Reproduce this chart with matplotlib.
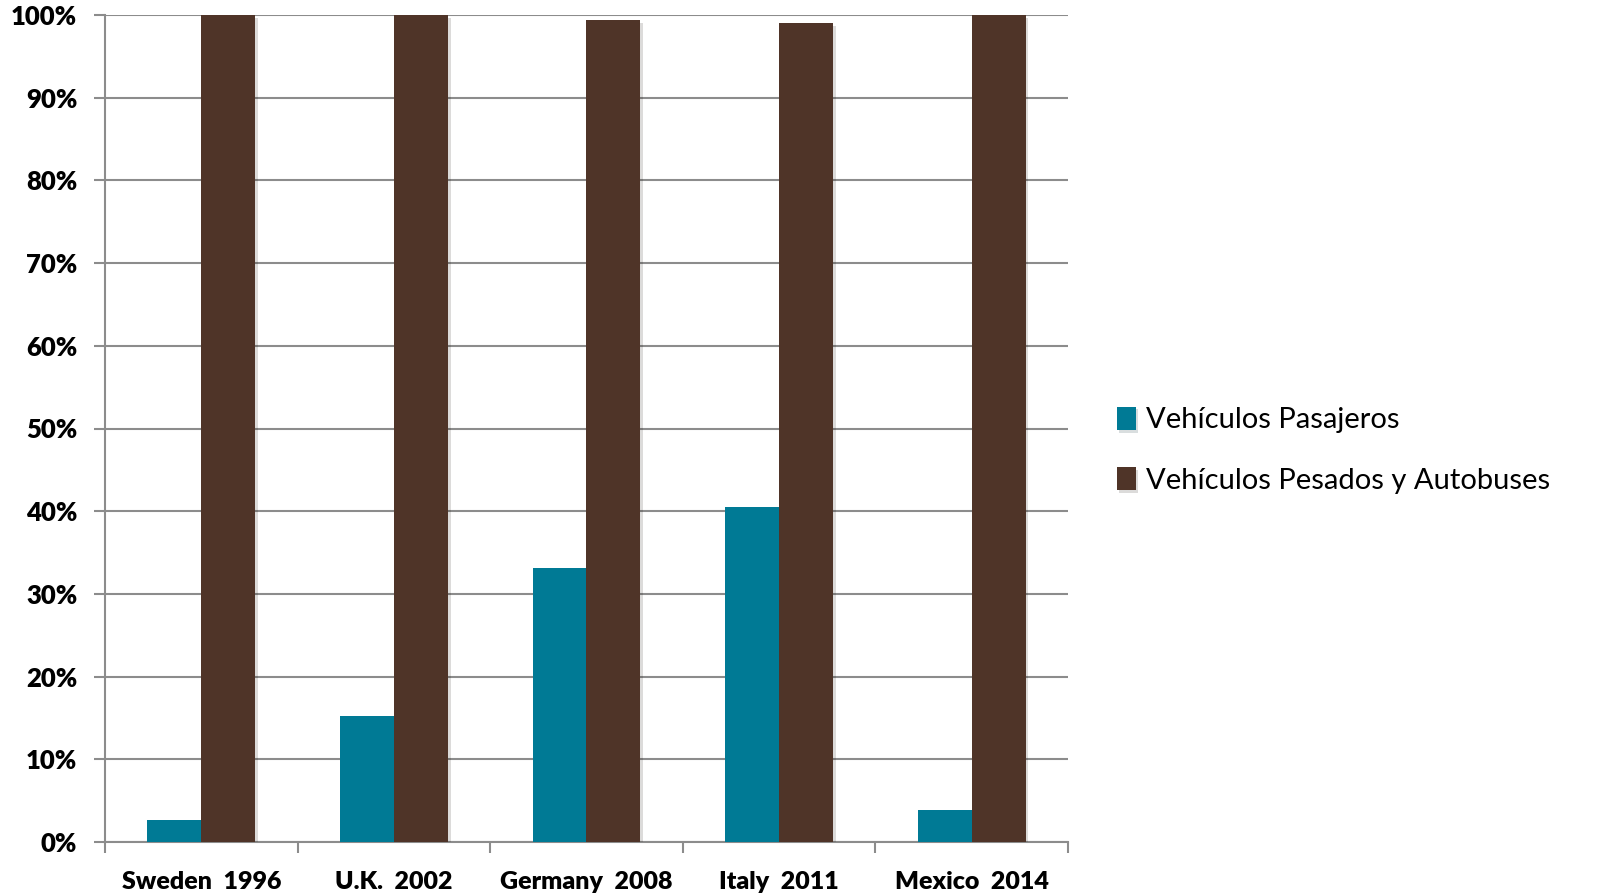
import matplotlib
matplotlib.use("Agg")
import matplotlib.pyplot as plt
import matplotlib.patheffects as pe
import numpy as np

# Data
categories = ["Sweden  1996", "U.K.  2002", "Germany  2008", "Italy  2011", "Mexico  2014"]
pasajeros = [2.7, 15.2, 33.1, 40.5, 3.9]
pesados = [100.0, 100.0, 99.4, 99.0, 100.0]
series_names = ["Vehículos Pasajeros", "Vehículos Pesados y Autobuses"]
colors = ["#007A95", "#4F3428"]
grid_color = "#8C8C8C"

plt.rcParams['font.family'] = ['Lato', 'DejaVu Sans']

fig = plt.figure(figsize=(16.15, 8.93), dpi=100)
ax = fig.add_axes([105 / 1615, 1 - 842 / 893, (1068 - 105) / 1615, (842 - 15) / 893])

x = np.arange(len(categories))
w = 0.28
shadow = [pe.SimplePatchShadow(offset=(2, -2), alpha=0.15), pe.Normal()]
ax.bar(x - w / 2, pasajeros, w, color=colors[0], label=series_names[0], path_effects=shadow, zorder=3)
ax.bar(x + w / 2, pesados, w, color=colors[1], label=series_names[1], path_effects=shadow, zorder=3)

ax.set_xlim(-0.5, len(categories) - 0.5)
ax.set_ylim(0, 100)

yt = np.arange(0, 101, 10)
ax.set_yticks(yt)
ax.set_yticklabels([f"{v}%" for v in yt], fontsize=18.5, fontweight="heavy")
ax.yaxis.grid(True, color=grid_color, linewidth=1.5, zorder=0)

# category boundaries as major ticks, labels at centers
ax.set_xticks(np.arange(-0.5, len(categories), 1.0))
ax.set_xticklabels([])
ax.set_xticks(x, minor=True)
ax.set_xticklabels(categories, minor=True, fontsize=18, fontweight="heavy")
ax.tick_params(axis="x", which="minor", length=0, pad=21)
ax.tick_params(axis="x", which="major", length=8, width=1.5, color=grid_color)
ax.tick_params(axis="y", length=8, width=1.5, color=grid_color, pad=12)

for s in ["top", "right"]:
    ax.spines[s].set_visible(False)
for s in ["left", "bottom"]:
    ax.spines[s].set_color(grid_color)
    ax.spines[s].set_linewidth(1.5)

fig.legend(loc="upper left", bbox_to_anchor=(1105 / 1615, 1 - 395 / 893), frameon=False,
           fontsize=21, handlelength=0.65, handleheight=0.85, handletextpad=0.35,
           labelspacing=1.15, borderaxespad=0)

fig.savefig("out.png", dpi=100)
